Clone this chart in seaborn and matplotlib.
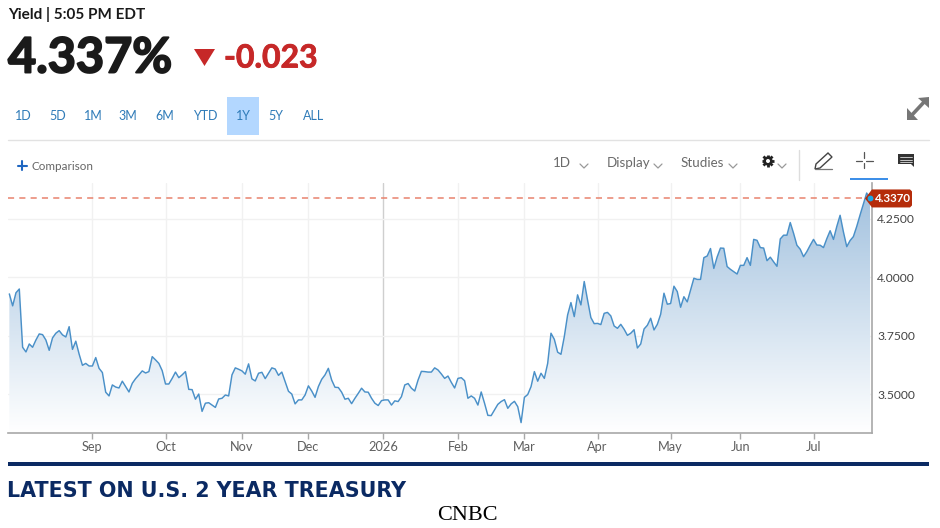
import numpy as np
import pandas as pd
import seaborn as sns
import matplotlib
matplotlib.use("Agg")
import matplotlib.pyplot as plt
import matplotlib.patheffects as pe
from matplotlib.patches import Polygon, Rectangle, Circle

# Daily closes for the U.S. 2 year Treasury yield, one session per entry
yield_aug_dec = [
    3.929, 3.878, 3.934, 3.950, 3.701, 3.681, 3.715, 3.701, 3.732, 3.758,
    3.755, 3.732, 3.688, 3.741, 3.761, 3.772, 3.754, 3.745, 3.789, 3.692,
    3.727, 3.672, 3.624, 3.632, 3.621, 3.621, 3.657, 3.611, 3.593, 3.509,
    3.493, 3.540, 3.531, 3.527, 3.556, 3.533, 3.510, 3.547, 3.567, 3.583,
    3.600, 3.591, 3.597, 3.661, 3.647, 3.632, 3.601, 3.544, 3.544, 3.568,
    3.595, 3.571, 3.583, 3.597, 3.521, 3.520, 3.479, 3.501, 3.427, 3.462,
    3.464, 3.454, 3.444, 3.480, 3.483, 3.497, 3.493, 3.583, 3.613, 3.607,
    3.600, 3.586, 3.630, 3.566, 3.557, 3.590, 3.594, 3.567, 3.590, 3.613,
    3.608, 3.581, 3.595, 3.554, 3.513, 3.501, 3.459, 3.476, 3.476, 3.497,
    3.536, 3.514, 3.487, 3.533,
]
yield_dec_apr = [
    3.564, 3.583, 3.611, 3.561, 3.530, 3.529, 3.509, 3.479, 3.483, 3.460,
    3.483, 3.504, 3.526, 3.510, 3.509, 3.483, 3.462, 3.452, 3.473, 3.476,
    3.476, 3.454, 3.472, 3.469, 3.490, 3.540, 3.546, 3.526, 3.514, 3.561,
    3.598, 3.597, 3.595, 3.595, 3.613, 3.604, 3.587, 3.568, 3.578, 3.551,
    3.527, 3.568, 3.571, 3.558, 3.483, 3.493, 3.483, 3.454, 3.510, 3.462,
    3.410, 3.409, 3.433, 3.457, 3.469, 3.477, 3.440, 3.459, 3.470, 3.447,
    3.379, 3.487, 3.499, 3.533, 3.597, 3.556, 3.590, 3.568, 3.632, 3.761,
    3.735, 3.680, 3.671, 3.746, 3.839, 3.892, 3.832, 3.925, 3.882, 3.982,
    3.903, 3.828, 3.802, 3.803, 3.798, 3.846, 3.850, 3.835, 3.792, 3.782,
    3.799, 3.778, 3.752,
]
yield_apr_jul = [
    3.761, 3.776, 3.698, 3.715, 3.779, 3.795, 3.825, 3.775, 3.799, 3.842,
    3.932, 3.885, 3.888, 3.962, 3.939, 3.872, 3.917, 3.895, 3.946, 3.996,
    3.991, 3.991, 4.084, 4.091, 4.123, 4.038, 4.087, 4.125, 4.124, 4.046,
    4.034, 4.024, 4.014, 4.051, 4.051, 4.084, 4.051, 4.162, 4.158, 4.127,
    4.125, 4.071, 4.086, 4.066, 4.047, 4.164, 4.180, 4.180, 4.234, 4.188,
    4.137, 4.120, 4.088, 4.110, 4.137, 4.162, 4.138, 4.137, 4.127, 4.165,
    4.199, 4.162, 4.217, 4.265, 4.194, 4.131, 4.157, 4.174, 4.217, 4.266,
    4.313, 4.360, 4.337,
]
month_labels = ["Sep", "Oct", "Nov", "Dec", "2026", "Feb", "Mar", "Apr", "May", "Jun", "Jul"]
month_sessions = [25, 47, 70, 90, 112.5, 135, 155, 177, 199, 220, 242]
yield_ticks = [3.5, 3.75, 4.0, 4.25]
range_buttons = ["1D", "5D", "1M", "3M", "6M", "YTD", "1Y", "5Y", "ALL"]
button_centers = [23.5, 58, 93, 128, 165, 205, 243, 276, 314]
current_yield = 4.337
day_change = -0.023

values = yield_aug_dec + yield_dec_apr + yield_apr_jul
frame = pd.DataFrame({"session": np.arange(len(values)), "yield": values})

sns.set_theme(style="white")
plt.rcParams["font.family"] = ["Lato", "DejaVu Sans"]

fig = plt.figure(figsize=(9.4, 5.28), dpi=100, facecolor="white")
W, H = 940, 528
left, right, top, bottom = 8, 872, 183, 433
ax = fig.add_axes([left / W, 1 - bottom / H, (right - left) / W, (bottom - top) / H])
ymin, ymax = 3.3346, 4.403
xmin, xmax = -0.4, len(values) - 1 + 0.6

# Area under the curve: vertical gradient clipped to the curve's polygon
ramp = np.linspace(0, 1, 256).reshape(-1, 1)
cmap = matplotlib.colors.LinearSegmentedColormap.from_list("area", ["#a3c2df", "#ffffff"])
img = ax.imshow(ramp, extent=[xmin, xmax, ymin, 4.36], origin="upper", aspect="auto",
                cmap=cmap, zorder=2)
poly = ax.fill_between(frame["session"], frame["yield"], ymin, facecolor="none", edgecolor="none")
img.set_clip_path(poly.get_paths()[0], transform=ax.transData)

sns.lineplot(data=frame, x="session", y="yield", ax=ax, color="#4a90c8", linewidth=1.05, zorder=3,
             errorbar=None)

ax.set_xlim(xmin, xmax)
ax.set_ylim(ymin, ymax)
ax.set_xlabel("")
ax.set_ylabel("")
ax.set_xticks(month_sessions, month_labels)
ax.set_yticks(yield_ticks, [f"{v:.4f}" for v in yield_ticks])
ax.yaxis.tick_right()
ax.tick_params(axis="x", length=4, width=1, color="#a8a8a8", labelsize=9.2, labelcolor="#5f5f5f", pad=1.5,
               bottom=True)
ax.tick_params(axis="y", length=0, labelsize=8.7, labelcolor="#444444", pad=3.6)
ax.grid(True, color="#f1f1f1", linewidth=1, zorder=1)
ax.set_axisbelow(True)
ax.get_xgridlines()[4].set_color("#cfcfcf")
for side in ("top", "left"):
    ax.spines[side].set_visible(False)
for side in ("bottom", "right"):
    ax.spines[side].set_color("#a8a8a8")
    ax.spines[side].set_linewidth(1.2)

ax.axhline(current_yield, color="#e8836d", linewidth=1.1, dashes=(4, 3.4), zorder=4)

# Page furniture around the chart, placed in pixel coordinates
ui = fig.add_axes([0, 0, 1, 1], zorder=-1)
ui.set_xlim(0, W)
ui.set_ylim(H, 0)
ui.axis("off")

# Last-price tag sits above everything, centred on the current yield
tag = fig.add_axes([0, 0, 1, 1], zorder=5)
tag.set_xlim(0, W)
tag.set_ylim(H, 0)
tag.axis("off")
last = len(values) - 1
tag_y = tag.transData.inverted().transform(ax.transData.transform((last, current_yield)))[1]
tag.add_patch(Polygon([[865, tag_y], [872, tag_y - 9], [910, tag_y - 9], [912, tag_y - 7], [912, tag_y + 7],
                       [910, tag_y + 9], [872, tag_y + 9]], fc="#b52c0a", ec="none"))
tag.text(875, tag_y, f"{current_yield:.4f}", color="white", fontsize=8.3, fontweight="bold", va="center", ha="left")
tag.plot([last], [current_yield], marker="o", ms=4.2, mew=0, color="#1ca6e2", transform=ax.transData, clip_on=False)

ui.text(8, 14.5, "Yield | 5:05 PM EDT", fontsize=11, fontweight="bold", color="#1a1a1a", va="center")
ui.text(8, 58, f"{current_yield:.3f}%", fontsize=35, fontweight="bold", color="#1a1a1a", va="center",
        path_effects=[pe.withStroke(linewidth=1.4, foreground="#1a1a1a")])
ui.add_patch(Polygon([[194, 49], [215, 49], [204.5, 66]], fc="#c62828", ec="none"))
ui.text(224, 58, f"{day_change:.3f}", fontsize=23, fontweight="bold", color="#c62828", va="center",
        path_effects=[pe.withStroke(linewidth=0.6, foreground="#c62828")])

ui.add_patch(Rectangle((227, 97), 32, 38, fc="#b3d7ff", ec="none"))
for label, cx in zip(range_buttons, button_centers):
    ui.text(cx, 116, label, fontsize=9, color="#2f7bb8", ha="center", va="center")
ui.plot([8, 929], [139.5, 139.5], color="#e2e2e2", lw=1)

ui.plot([17.5, 26.5], [165.5, 165.5], color="#1f66c1", lw=1.5)
ui.plot([22, 22], [161, 170], color="#1f66c1", lw=1.5)
ui.text(32, 166.5, "Comparison", fontsize=8.4, color="#666666", va="center")

for text, tx, chevron in [("1D", 553, 584), ("Display", 607, 658), ("Studies", 681, 733)]:
    ui.text(tx, 163, text, fontsize=9.6, color="#6a6a6a", va="center")
    ui.plot([chevron - 4, chevron, chevron + 4], [164, 168, 164], color="#999999", lw=0.9)

# Settings gear
for a in np.arange(8) * np.pi / 4:
    ui.plot([768, 768 + 6.4 * np.cos(a)], [161, 161 + 6.4 * np.sin(a)], color="#222222", lw=2, solid_capstyle="butt")
ui.add_patch(Circle((768, 161), 4.6, fc="#222222", ec="none", zorder=3))
ui.add_patch(Circle((768, 161), 2, fc="white", ec="none", zorder=4))
ui.plot([778, 782, 786], [164, 168, 164], color="#999999", lw=0.9)
ui.plot([799, 799], [150, 180], color="#dddddd", lw=1)

# Drawing, crosshair and note icons
ui.add_patch(Polygon([[816, 164], [828, 153], [832, 157], [820, 168], [815, 169]], fc="white", ec="#444444", lw=1))
ui.plot([815, 832], [168.5, 168.5], color="#777777", lw=0.9)
ui.plot([856, 862], [160.5, 160.5], color="#555555", lw=0.9)
ui.plot([866, 873], [160.5, 160.5], color="#555555", lw=0.9)
ui.plot([864, 864], [152, 158], color="#555555", lw=0.9)
ui.plot([864, 864], [163, 168], color="#555555", lw=0.9)
ui.add_patch(Rectangle((850, 177.5), 38, 2.4, fc="#3d8fe8", ec="none"))
ui.add_patch(Polygon([[898, 154], [914, 154], [914, 167], [911, 164], [898, 164]], fc="#333333", ec="none"))
for yy in (157, 159.5, 162):
    ui.plot([900, 912], [yy, yy], color="white", lw=0.5)

# Expand arrows
grey = "#767676"
ui.plot([911, 925], [116, 101], color=grey, lw=2.6)
ui.add_patch(Polygon([[918, 98], [929, 97], [929, 108]], fc=grey, ec="none"))
ui.add_patch(Polygon([[907, 108], [907, 120], [918, 120]], fc=grey, ec="none"))

ui.add_patch(Rectangle((8, 462), 921, 4, fc="#0b2a63", ec="none"))
ui.text(7, 491, "LATEST ON U.S. 2 YEAR TREASURY", fontsize=14.9, fontweight="bold", color="#0b2a63", va="center",
        family=["DejaVu Sans"])
ui.text(467, 515, "CNBC", fontsize=16, color="black", ha="center", va="center", family=["Liberation Serif"])

fig.savefig("out.png", dpi=100, facecolor="white")
